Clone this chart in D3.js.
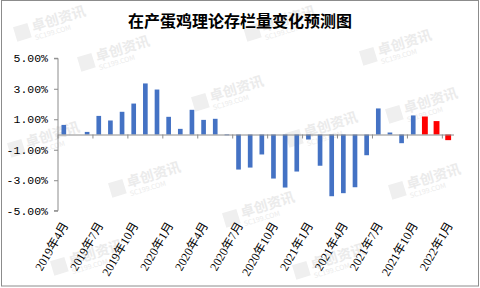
<html>
<head>
<meta charset="utf-8">
<script src="https://d3js.org/d3.v7.min.js"></script>
<style>
  body { margin: 0; background: #fff; }
  .ylab text { font-family: "Liberation Mono", monospace; font-size: 11.5px; fill: #000; }
  .xlab text { font-family: "Liberation Serif", "Noto Sans CJK SC", serif; font-size: 12px; fill: #000; }
  .wm text { fill: #ebebeb; font-family: "Noto Sans CJK SC", sans-serif; }
</style>
</head>
<body>
<svg id="chart" width="480" height="288"></svg>
<script>
    // months of the chart (one bar per month)
    const months = [
        "2019年4月", "2019年5月", "2019年6月", "2019年7月", "2019年8月", "2019年9月",
        "2019年10月", "2019年11月", "2019年12月", "2020年1月", "2020年2月", "2020年3月",
        "2020年4月", "2020年5月", "2020年6月", "2020年7月", "2020年8月", "2020年9月",
        "2020年10月", "2020年11月", "2020年12月", "2021年1月", "2021年2月", "2021年3月",
        "2021年4月", "2021年5月", "2021年6月", "2021年7月", "2021年8月", "2021年9月",
        "2021年10月", "2021年11月", "2021年12月", "2022年1月"
    ];
    // monthly change of layer stock, %
    const values = [
        0.63, 0, 0.17, 1.22, 0.92, 1.49,
        2.03, 3.35, 2.95, 1.16, 0.37, 1.62,
        0.96, 1.03, -0.05, -2.30, -2.17, -1.31,
        -2.89, -3.48, -2.43, -0.33, -2.05, -4.05,
        -3.85, -3.46, -1.36, 1.71, 0.13, -0.57,
        1.25, 1.18, 0.88, -0.37
    ];
    // last months are a forecast (drawn red)
    const forecast = ["2021年11月", "2021年12月", "2022年1月"];
    const yTicks = [-5, -3, -1, 1, 3, 5];
    const labelMonths = months.filter((d, i) => i % 3 === 0);
    const title = "在产蛋鸡理论存栏量变化预测图";

    const data = months.map((m, i) => ({ month: m, value: values[i] }));

    const svg = d3.select("#chart");

    // watermark of the source
    const wmPos = [[58,24],[288,24],[404,48],[122,54],[236,94],[430,106],[330,130],[52,140],
                   [153,180],[433,182],[267,210],[95,258],[337,262]];
    const wm = svg.append("g").attr("class", "wm")
        .selectAll("g").data(wmPos).join("g")
        .attr("transform", d => `translate(${d[0]},${d[1]}) rotate(-17)`);
    wm.append("rect").attr("x", -44).attr("y", -10).attr("width", 15).attr("height", 15).attr("fill", "#efefef");
    wm.append("text").attr("x", -26).attr("y", 0).style("font-size", "14px").style("font-weight", "bold").text("卓创资讯");
    wm.append("text").attr("x", -26).attr("y", 9).style("font-size", "7px").text("SC199.COM");

    // border
    svg.append("rect")
        .attr("x", 1.5).attr("y", 0.5).attr("width", 477).attr("height", 285.5)
        .attr("fill", "none").attr("stroke", "#8c8c8c");

    svg.append("text")
        .attr("x", 240).attr("y", 27)
        .attr("text-anchor", "middle")
        .style("font-family", "'Noto Sans CJK SC', sans-serif")
        .style("font-size", "16px")
        .style("font-weight", "bold")
        .text(title);

    const x = d3.scaleBand()
        .domain(months)
        .range([58, 454])
        .paddingInner(0.6)
        .paddingOuter(0.3);

    const y = d3.scaleLinear()
        .domain([-5, 5])
        .range([210.7, 58.3]);

    // y axis
    const yAxis = svg.append("g")
        .attr("class", "ylab")
        .attr("transform", "translate(58,0)")
        .call(d3.axisLeft(y).tickValues(yTicks).tickSize(4).tickPadding(6)
            .tickFormat(d => d.toFixed(2) + "%"));
    yAxis.selectAll("path, line").attr("stroke", "#8c8c8c");
    yAxis.select(".domain").attr("d", "M-4,58.3H0V210.7H-4");

    // bars
    svg.append("g")
        .selectAll("rect")
        .data(data)
        .join("rect")
        .attr("x", d => forecast.includes(d.month) ? x(d.month) - 0.6 : x(d.month))
        .attr("width", d => forecast.includes(d.month) ? x.bandwidth() + 1.2 : x.bandwidth())
        .attr("y", d => y(Math.max(0, d.value)))
        .attr("height", d => Math.abs(y(d.value) - y(0)))
        .attr("fill", d => forecast.includes(d.month) ? "#ff0000" : "#4472c4");

    // zero axis with tick marks between groups of three months
    const step = x.step();
    const zAxis = svg.append("g")
        .attr("transform", `translate(0,${y(0)})`)
        .call(d3.axisBottom(x).tickValues(labelMonths).tickSize(4).tickFormat(""));
    zAxis.select(".domain").attr("d", "M58,0.5H454").attr("stroke", "#8c8c8c");
    zAxis.selectAll(".tick line")
        .attr("x1", -step / 2).attr("x2", -step / 2)
        .attr("stroke", "#8c8c8c");

    // category labels below the plot
    const xLab = svg.append("g")
        .attr("class", "xlab")
        .attr("transform", "translate(0,222)")
        .call(d3.axisBottom(x).tickValues(labelMonths).tickSize(0).tickPadding(0));
    xLab.select(".domain").remove();
    xLab.selectAll("text")
        .attr("text-anchor", "end")
        .attr("dx", 0)
        .attr("dy", 0)
        .attr("y", 0)
        .attr("transform", "translate(5,3) rotate(-60)");
</script>
</body>
</html>
